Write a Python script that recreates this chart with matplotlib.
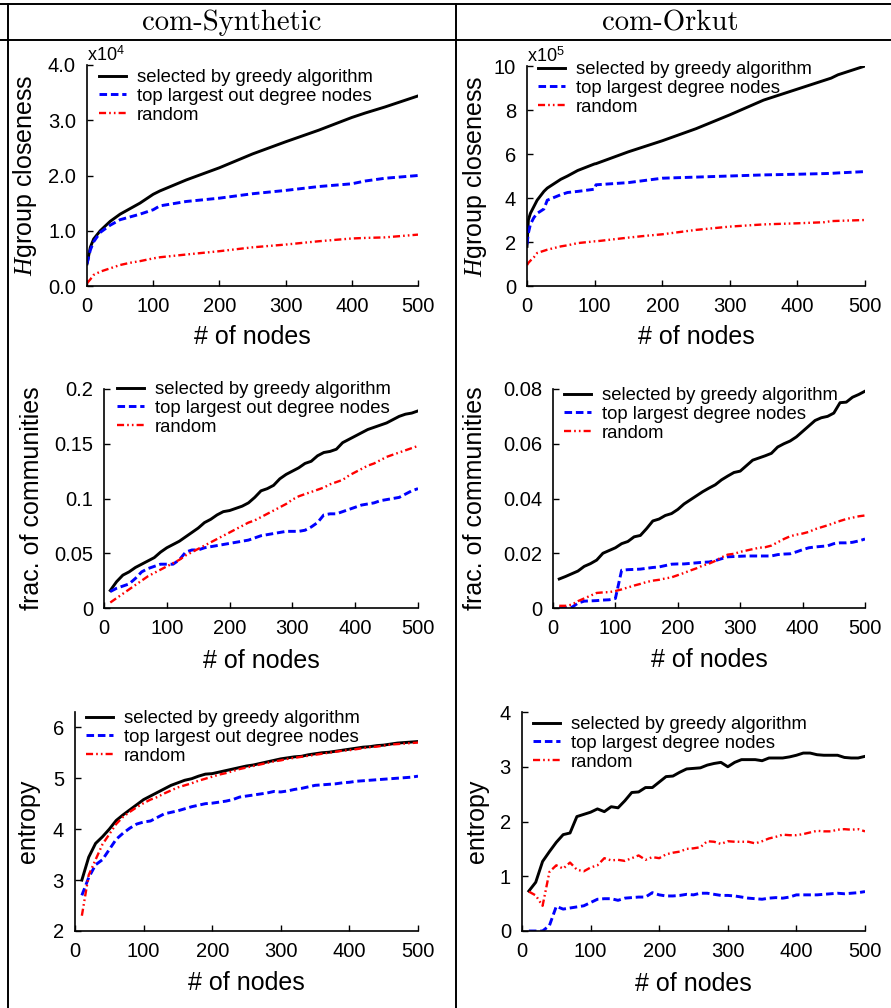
import numpy as np
import matplotlib
matplotlib.use("Agg")
import matplotlib.pyplot as plt
from matplotlib.lines import Line2D

plt.rcParams['font.family'] = ['Liberation Sans', 'DejaVu Sans']
plt.rcParams['mathtext.fontset'] = 'custom'
plt.rcParams['mathtext.rm'] = 'Liberation Sans'
plt.rcParams['mathtext.it'] = 'Liberation Serif:italic'

# ---- com-Synthetic, H group closeness (x10^4)
syn_h_x = [0, 5, 10, 20, 35, 50, 65, 80, 100, 110, 150, 200, 250, 300, 350, 400, 420, 450, 500]
syn_h_greedy = [0.40, 0.70, 0.85, 1.00, 1.17, 1.30, 1.40, 1.50, 1.66, 1.72, 1.92, 2.14, 2.39, 2.61, 2.82, 3.05, 3.13, 3.24, 3.44]
syn_h_degree = [0.40, 0.65, 0.80, 0.97, 1.10, 1.20, 1.25, 1.30, 1.38, 1.45, 1.53, 1.59, 1.67, 1.73, 1.80, 1.85, 1.90, 1.95, 2.00]
syn_h_random = [0.05, 0.12, 0.20, 0.26, 0.32, 0.38, 0.42, 0.45, 0.50, 0.52, 0.57, 0.63, 0.70, 0.75, 0.81, 0.86, 0.87, 0.88, 0.93]

# ---- com-Orkut, H group closeness (x10^5)
ork_h_x = [0, 2, 5, 10, 15, 25, 30, 50, 60, 75, 100, 102, 150, 175, 200, 250, 300, 350, 400, 440, 450, 460, 500]
ork_h_greedy = [1.80, 3.00, 3.30, 3.60, 3.90, 4.30, 4.45, 4.85, 5.00, 5.25, 5.55, 5.56, 6.10, 6.35, 6.60, 7.15, 7.78, 8.45, 8.95, 9.35, 9.45, 9.60, 10.0]
ork_h_degree = [1.90, 2.40, 2.80, 3.10, 3.30, 3.50, 3.90, 4.15, 4.25, 4.30, 4.40, 4.60, 4.70, 4.80, 4.90, 4.95, 5.00, 5.05, 5.08, 5.11, 5.12, 5.14, 5.20]
ork_h_random = [0.95, 1.05, 1.15, 1.30, 1.50, 1.60, 1.65, 1.80, 1.85, 1.95, 2.03, 2.03, 2.20, 2.28, 2.35, 2.55, 2.70, 2.80, 2.85, 2.90, 2.95, 2.96, 3.00]

nodes = list(range(10, 501, 10))

# ---- com-Synthetic, fraction of communities
syn_c_greedy = [0.016, 0.024, 0.030, 0.033, 0.037, 0.040, 0.043, 0.046, 0.051, 0.055,
                0.058, 0.061, 0.065, 0.069, 0.073, 0.078, 0.081, 0.085, 0.088, 0.089,
                0.091, 0.093, 0.096, 0.101, 0.107, 0.109, 0.112, 0.118, 0.122, 0.125,
                0.128, 0.132, 0.134, 0.139, 0.142, 0.143, 0.145, 0.151, 0.154, 0.157,
                0.160, 0.163, 0.165, 0.167, 0.169, 0.172, 0.175, 0.177, 0.178, 0.180]
syn_c_degree = [0.015, 0.018, 0.020, 0.022, 0.027, 0.033, 0.036, 0.038, 0.040, 0.040,
                0.040, 0.044, 0.051, 0.053, 0.053, 0.055, 0.056, 0.057, 0.058, 0.059,
                0.060, 0.061, 0.062, 0.064, 0.066, 0.067, 0.068, 0.069, 0.070, 0.070,
                0.070, 0.071, 0.074, 0.078, 0.085, 0.086, 0.086, 0.088, 0.090, 0.092,
                0.094, 0.095, 0.096, 0.098, 0.099, 0.100, 0.101, 0.104, 0.107, 0.109]
syn_c_random = [0.005, 0.009, 0.013, 0.017, 0.021, 0.025, 0.029, 0.032, 0.035, 0.038,
                0.041, 0.044, 0.048, 0.051, 0.054, 0.057, 0.060, 0.063, 0.066, 0.069,
                0.072, 0.075, 0.078, 0.080, 0.083, 0.086, 0.089, 0.092, 0.095, 0.099,
                0.102, 0.104, 0.106, 0.108, 0.110, 0.113, 0.115, 0.117, 0.121, 0.124,
                0.127, 0.130, 0.132, 0.135, 0.138, 0.140, 0.142, 0.144, 0.146, 0.148]

# ---- com-Orkut, fraction of communities
ork_c_greedy = [0.0106, 0.0115, 0.0125, 0.0135, 0.0152, 0.0162, 0.0175, 0.0200, 0.0210, 0.0220,
                0.0235, 0.0243, 0.0260, 0.0265, 0.0290, 0.0318, 0.0325, 0.0338, 0.0345, 0.0360,
                0.0380, 0.0395, 0.0410, 0.0425, 0.0438, 0.0450, 0.0468, 0.0482, 0.0495, 0.0500,
                0.0520, 0.0540, 0.0548, 0.0556, 0.0565, 0.0588, 0.0600, 0.0610, 0.0625, 0.0645,
                0.0665, 0.0685, 0.0695, 0.0700, 0.0712, 0.0750, 0.0752, 0.0770, 0.0780, 0.0792]
ork_c_degree = [0.0002, 0.0001, 0.0002, 0.0018, 0.0025, 0.0026, 0.0027, 0.0029, 0.0030, 0.0035,
                0.0138, 0.0140, 0.0141, 0.0142, 0.0145, 0.0148, 0.0150, 0.0155, 0.0160, 0.0161,
                0.0161, 0.0163, 0.0165, 0.0167, 0.0168, 0.0173, 0.0180, 0.0187, 0.0188, 0.0189,
                0.0190, 0.0190, 0.0190, 0.0190, 0.0190, 0.0195, 0.0197, 0.0198, 0.0205, 0.0213,
                0.0220, 0.0223, 0.0225, 0.0227, 0.0235, 0.0238, 0.0238, 0.0240, 0.0245, 0.0252]
ork_c_random = [0.0008, 0.0008, 0.0012, 0.0025, 0.0035, 0.0045, 0.0055, 0.0057, 0.0058, 0.0062,
                0.0068, 0.0075, 0.0082, 0.0088, 0.0095, 0.0100, 0.0103, 0.0108, 0.0112, 0.0120,
                0.0128, 0.0137, 0.0145, 0.0155, 0.0162, 0.0172, 0.0185, 0.0195, 0.0198, 0.0205,
                0.0210, 0.0215, 0.0220, 0.0222, 0.0228, 0.0240, 0.0252, 0.0262, 0.0268, 0.0272,
                0.0278, 0.0288, 0.0295, 0.0302, 0.0310, 0.0318, 0.0325, 0.0330, 0.0335, 0.0338]

# ---- com-Synthetic, entropy
syn_e_greedy = [3.00, 3.45, 3.72, 3.85, 4.00, 4.17, 4.28, 4.38, 4.48, 4.58,
                4.65, 4.72, 4.79, 4.86, 4.91, 4.96, 4.99, 5.04, 5.08, 5.09,
                5.12, 5.15, 5.18, 5.21, 5.24, 5.26, 5.29, 5.32, 5.35, 5.38,
                5.40, 5.42, 5.43, 5.46, 5.48, 5.50, 5.51, 5.53, 5.55, 5.57,
                5.59, 5.61, 5.62, 5.64, 5.65, 5.67, 5.69, 5.70, 5.71, 5.72]
syn_e_degree = [2.70, 3.05, 3.30, 3.40, 3.60, 3.80, 3.92, 4.02, 4.10, 4.14,
                4.16, 4.23, 4.30, 4.33, 4.36, 4.40, 4.44, 4.47, 4.50, 4.51,
                4.53, 4.55, 4.58, 4.63, 4.65, 4.67, 4.69, 4.71, 4.74, 4.73,
                4.75, 4.78, 4.80, 4.83, 4.86, 4.87, 4.88, 4.89, 4.91, 4.92,
                4.94, 4.95, 4.96, 4.97, 4.98, 4.99, 5.00, 5.01, 5.02, 5.04]
syn_e_random = [2.30, 3.10, 3.40, 3.70, 3.90, 4.10, 4.24, 4.34, 4.43, 4.51,
                4.58, 4.63, 4.70, 4.76, 4.82, 4.86, 4.90, 4.95, 4.99, 5.03,
                5.07, 5.10, 5.14, 5.18, 5.21, 5.24, 5.27, 5.30, 5.33, 5.35,
                5.38, 5.40, 5.42, 5.44, 5.46, 5.48, 5.50, 5.52, 5.54, 5.55,
                5.57, 5.59, 5.61, 5.62, 5.64, 5.66, 5.67, 5.68, 5.69, 5.70]

# ---- com-Orkut, entropy
ork_e_greedy = [0.73, 0.89, 1.27, 1.45, 1.62, 1.76, 1.79, 2.09, 2.13, 2.17,
                2.23, 2.18, 2.27, 2.25, 2.38, 2.53, 2.54, 2.62, 2.62, 2.72,
                2.82, 2.83, 2.90, 2.96, 2.97, 2.98, 3.03, 3.06, 3.08, 3.00,
                3.08, 3.13, 3.13, 3.13, 3.11, 3.16, 3.16, 3.16, 3.18, 3.21,
                3.25, 3.25, 3.22, 3.21, 3.21, 3.21, 3.17, 3.16, 3.16, 3.19]
ork_e_degree = [0.00, 0.00, 0.00, 0.10, 0.45, 0.40, 0.42, 0.44, 0.46, 0.52,
                0.58, 0.59, 0.59, 0.56, 0.60, 0.61, 0.62, 0.62, 0.70, 0.66,
                0.64, 0.64, 0.65, 0.67, 0.66, 0.69, 0.69, 0.67, 0.65, 0.65,
                0.64, 0.62, 0.60, 0.59, 0.58, 0.60, 0.61, 0.60, 0.62, 0.66,
                0.66, 0.66, 0.66, 0.67, 0.68, 0.69, 0.68, 0.69, 0.70, 0.72]
ork_e_random = [0.72, 0.65, 0.46, 1.08, 1.20, 1.14, 1.25, 1.12, 1.09, 1.16,
                1.20, 1.33, 1.29, 1.30, 1.28, 1.33, 1.38, 1.30, 1.35, 1.33,
                1.40, 1.43, 1.45, 1.50, 1.51, 1.53, 1.64, 1.63, 1.59, 1.64,
                1.63, 1.63, 1.63, 1.60, 1.64, 1.69, 1.72, 1.76, 1.75, 1.75,
                1.77, 1.80, 1.83, 1.82, 1.82, 1.85, 1.86, 1.85, 1.86, 1.82]

W, H = 891, 1008
fig = plt.figure(figsize=(W / 100, H / 100), dpi=100)


def px_axes(x0, x1, ytop, ybot):
    return fig.add_axes([x0 / W, 1 - ybot / H, (x1 - x0) / W, (ybot - ytop) / H])


def fig_line(x0, y0, x1, y1):
    fig.add_artist(Line2D([x0 / W, x1 / W], [1 - y0 / H, 1 - y1 / H],
                          transform=fig.transFigure, color='black', lw=1.4))


# table frame
fig_line(0, 4, W, 4)
fig_line(0, 40, W, 40)
fig_line(8, 4, 8, H)
fig_line(456, 4, 456, H)
fig.text(232 / W, 1 - 23 / H, 'com-Synthetic', family='cmr10', fontsize=20.7,
         ha='center', va='center')
fig.text(670 / W, 1 - 23 / H, 'com-Orkut', family='cmr10', fontsize=20.7,
         ha='center', va='center')


def panel(box, xs, greedy, degree, random_, ylim, yticks, ytl, ylabel, leg_xy,
          deg_label, ylab_cx, xlab_cy):
    x0, x1, ytop, ybot = box
    ax = px_axes(*box)
    ax.plot(xs, greedy, color='black', lw=2.1, label='selected by greedy algorithm')
    ax.plot(xs, degree, color='#0000ff', lw=2.1, dashes=(2.6, 1.3), label=deg_label)
    ax.plot(xs, random_, color='#ff0000', lw=1.7, dashes=(3.0, 1.3, 0.7, 1.3, 0.7, 1.3), label='random')
    ax.set_xlim(0, 500)
    ax.set_ylim(*ylim)
    ax.set_xticks([0, 100, 200, 300, 400, 500])
    ax.set_yticks(yticks)
    ax.set_yticklabels(ytl)
    for s in ['top', 'right']:
        ax.spines[s].set_visible(False)
    for s in ['left', 'bottom']:
        ax.spines[s].set_linewidth(1.2)
    ax.tick_params(direction='in', length=4, width=1.0, labelsize=14.5, pad=8)
    ax.set_xlabel('# of nodes', fontsize=18)
    ax.set_ylabel(ylabel, fontsize=18)
    ax.yaxis.set_label_coords((ylab_cx + 12 - x0) / (x1 - x0), 0.5)
    ax.xaxis.set_label_coords(0.5, -(xlab_cy - 13 - ybot) / (ybot - ytop))
    ax.legend(loc='upper left', bbox_to_anchor=(leg_xy[0] / W, 1 - leg_xy[1] / H),
              bbox_transform=fig.transFigure, frameon=False, fontsize=13.3,
              borderpad=0, borderaxespad=0, handlelength=1.45, handletextpad=0.6,
              labelspacing=0.1)
    return ax


ax1 = panel((87, 418, 65, 286), syn_h_x, syn_h_greedy, syn_h_degree, syn_h_random,
            (0, 4.0), [0, 1, 2, 3, 4], ['0.0', '1.0', '2.0', '3.0', '4.0'],
            '$H$group closeness', (99, 69), 'top largest out degree nodes', 27, 338)
ax1.text(0, 1.0, 'x10$^{\\mathrm{4}}$', transform=ax1.transAxes, fontsize=13,
         ha='left', va='bottom')

ax2 = panel((527, 865, 66, 286), ork_h_x, ork_h_greedy, ork_h_degree, ork_h_random,
            (0, 10), [0, 2, 4, 6, 8, 10], ['0', '2', '4', '6', '8', '10'],
            '$H$group closeness', (538, 61), 'top largest degree nodes', 477, 338)
ax2.text(0, 1.0, 'x10$^{\\mathrm{5}}$', transform=ax2.transAxes, fontsize=13,
         ha='left', va='bottom')

panel((104, 418, 389, 608), nodes, syn_c_greedy, syn_c_degree, syn_c_random,
      (0, 0.2), [0, 0.05, 0.1, 0.15, 0.2], ['0', '0.05', '0.1', '0.15', '0.2'],
      'frac. of communities', (117, 381), 'top largest out degree nodes', 32, 662)

panel((553, 865, 389, 608), nodes, ork_c_greedy, ork_c_degree, ork_c_random,
      (0, 0.08), [0, 0.02, 0.04, 0.06, 0.08], ['0', '0.02', '0.04', '0.06', '0.08'],
      'frac. of communities', (564, 387), 'top largest degree nodes', 475, 661)

panel((75, 418, 712, 931), nodes, syn_e_greedy, syn_e_degree, syn_e_random,
      (2, 6.3), [2, 3, 4, 5, 6], ['2', '3', '4', '5', '6'],
      'entropy', (86, 710), 'top largest out degree nodes', 28, 984)

panel((522, 865, 712, 931), nodes, ork_e_greedy, ork_e_degree, ork_e_random,
      (0, 4), [0, 1, 2, 3, 4], ['0', '1', '2', '3', '4'],
      'entropy', (533, 716), 'top largest degree nodes', 477, 985)

fig.savefig('out.png', dpi=100)
